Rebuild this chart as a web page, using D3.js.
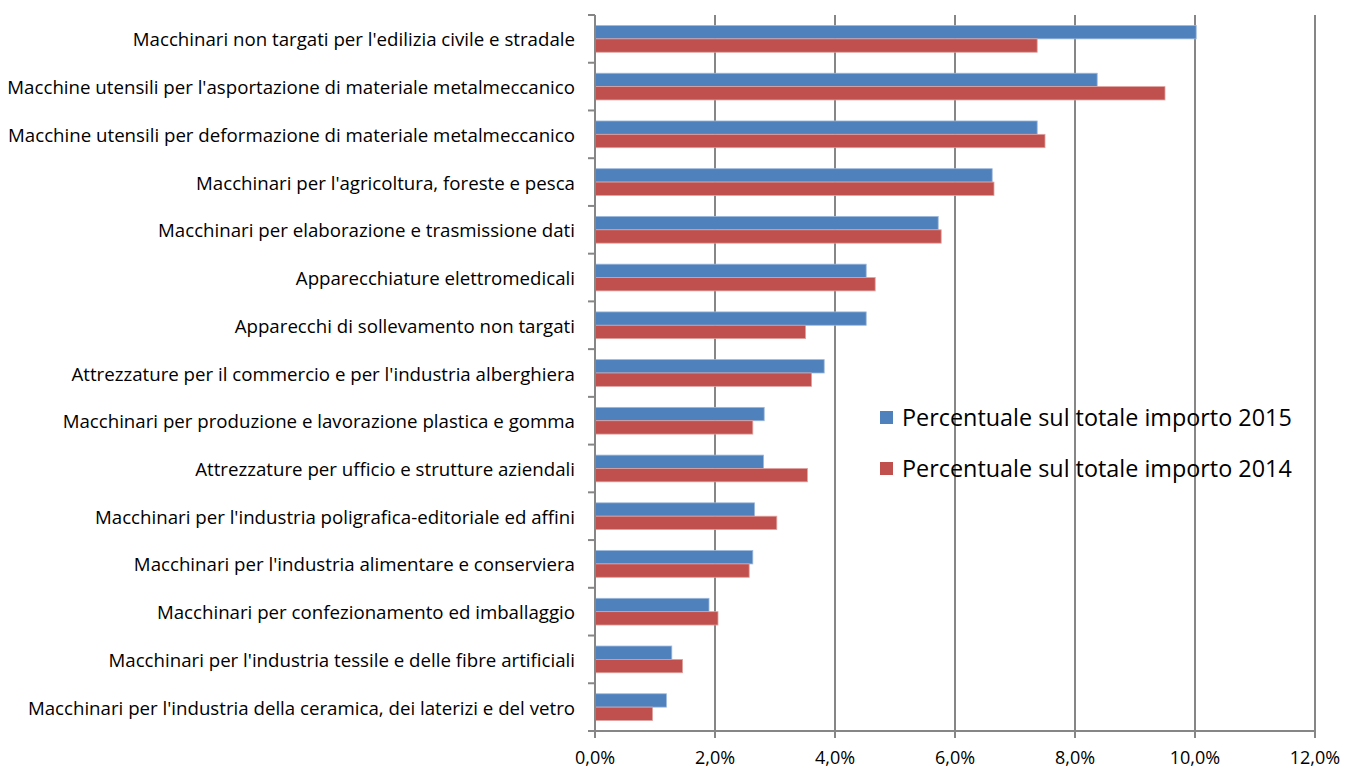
<!DOCTYPE html>
<html>
<head>
<meta charset="utf-8">
<script src="https://cdnjs.cloudflare.com/ajax/libs/d3/7.8.5/d3.min.js"></script>
<style>
  body { margin: 0; background: #fff; }
  svg text { font-family: "Open Sans", "Noto Sans", sans-serif; fill: #000; }
</style>
</head>
<body>
<div id="chart"></div>
<script>
// Categories (top to bottom)
const categories = [
  "Macchinari non targati per l'edilizia civile e stradale",
  "Macchine utensili per l'asportazione di materiale metalmeccanico",
  "Macchine utensili per deformazione di materiale metalmeccanico",
  "Macchinari per l'agricoltura, foreste e pesca",
  "Macchinari per elaborazione e trasmissione dati",
  "Apparecchiature elettromedicali",
  "Apparecchi di sollevamento non targati",
  "Attrezzature per il commercio e per l'industria alberghiera",
  "Macchinari per produzione e lavorazione plastica e gomma",
  "Attrezzature per ufficio e strutture aziendali",
  "Macchinari per l'industria poligrafica-editoriale ed affini",
  "Macchinari per l'industria alimentare e conserviera",
  "Macchinari per confezionamento ed imballaggio",
  "Macchinari per l'industria tessile e delle fibre artificiali",
  "Macchinari per l'industria della ceramica, dei laterizi e del vetro"
];

// Series values (%)
const values2015 = [10.02, 8.37, 7.37, 6.62, 5.72, 4.52, 4.52, 3.82, 2.82, 2.81, 2.66, 2.63, 1.90, 1.28, 1.19];
const values2014 = [7.37, 9.50, 7.50, 6.65, 5.77, 4.67, 3.51, 3.61, 2.63, 3.54, 3.03, 2.57, 2.05, 1.46, 0.96];

const seriesNames = ["Percentuale sul totale importo 2015", "Percentuale sul totale importo 2014"];
const xTicks = [0, 2, 4, 6, 8, 10, 12];

const colors = ["#4F81BD", "#C0504D"];
const strokes = ["#9DB8DB", "#DFA3A1"];

const width = 1359, height = 769;
const margin = { top: 15, right: 44, bottom: 38, left: 595 };

const svg = d3.select("#chart").append("svg")
  .attr("width", width)
  .attr("height", height);

const x = d3.scaleLinear()
  .domain([0, 12])
  .range([margin.left, width - margin.right]);

const y = d3.scaleBand()
  .domain(categories)
  .range([margin.top, height - margin.bottom])
  .paddingInner(0.44)
  .paddingOuter(0.22);

const ySub = d3.scaleBand()
  .domain([0, 1])
  .range([0, y.bandwidth()]);

// category boundaries for the y ticks
const step = y.step();
const yBounds = d3.range(categories.length + 1).map(i => margin.top + i * step);

// Gridlines
svg.append("g")
  .selectAll("line")
  .data(xTicks.slice(1))
  .join("line")
  .attr("x1", d => x(d)).attr("x2", d => x(d))
  .attr("y1", margin.top).attr("y2", height - margin.bottom)
  .attr("stroke", "#868686")
  .attr("stroke-width", 2);

// Bars
const rows = categories.map((c, i) => ({ c, vals: [values2015[i], values2014[i]] }));
const groups = svg.append("g")
  .selectAll("g")
  .data(rows)
  .join("g")
  .attr("transform", d => `translate(0,${y(d.c)})`);

groups.selectAll("rect")
  .data(d => d.vals.map((v, s) => ({ v, s })))
  .join("rect")
  .attr("x", x(0))
  .attr("y", d => ySub(d.s))
  .attr("width", d => x(d.v) - x(0))
  .attr("height", ySub.bandwidth())
  .attr("fill", d => colors[d.s])
  .attr("stroke", d => strokes[d.s])
  .attr("stroke-width", 0.8);

// Y axis
const yAxis = svg.append("g");
yAxis.append("line")
  .attr("x1", x(0)).attr("x2", x(0))
  .attr("y1", margin.top).attr("y2", height - margin.bottom)
  .attr("stroke", "#868686").attr("stroke-width", 2);
yAxis.selectAll("line.tick")
  .data(yBounds)
  .join("line")
  .attr("class", "tick")
  .attr("x1", x(0) - 7).attr("x2", x(0))
  .attr("y1", d => d).attr("y2", d => d)
  .attr("stroke", "#868686").attr("stroke-width", 2);

const yLabels = yAxis.selectAll("text")
  .data(categories)
  .join("text")
  .attr("x", x(0) - 20)
  .attr("y", d => y(d) + y.bandwidth() / 2)
  .attr("text-anchor", "end")
  .attr("dominant-baseline", "central")
  .style("font-size", "16px")
  .text(d => d);

// fit the label font to the original width of the longest label
const longest = d3.max(yLabels.nodes(), n => n.getComputedTextLength());
yLabels.style("font-size", (16 * 568 / longest) + "px");

// X axis
const xAxisY = height - margin.bottom;
const xAxis = svg.append("g");
xAxis.append("line")
  .attr("x1", x(0) - 7).attr("x2", x(12))
  .attr("y1", xAxisY).attr("y2", xAxisY)
  .attr("stroke", "#868686").attr("stroke-width", 2);
xAxis.selectAll("line.tick")
  .data(xTicks)
  .join("line")
  .attr("class", "tick")
  .attr("x1", d => x(d)).attr("x2", d => x(d))
  .attr("y1", xAxisY).attr("y2", xAxisY + 7)
  .attr("stroke", "#868686").attr("stroke-width", 2);
xAxis.selectAll("text")
  .data(xTicks)
  .join("text")
  .attr("x", d => x(d))
  .attr("y", 757)
  .attr("text-anchor", "middle")
  .attr("dominant-baseline", "central")
  .style("font-size", "18px")
  .text(d => d.toFixed(1).replace(".", ",") + "%");

// Legend
const legend = svg.append("g")
  .selectAll("g")
  .data(seriesNames)
  .join("g")
  .attr("transform", (d, i) => `translate(880,${417 + i * 51})`);
legend.append("rect")
  .attr("x", 0).attr("y", -6)
  .attr("width", 13).attr("height", 13)
  .attr("fill", (d, i) => colors[i]);
const legText = legend.append("text")
  .attr("x", 22)
  .attr("y", 0)
  .attr("dominant-baseline", "central")
  .style("font-size", "22px")
  .text(d => d);
const legW = d3.max(legText.nodes(), n => n.getComputedTextLength());
legText.style("font-size", (22 * 390 / legW) + "px");
</script>
</body>
</html>
